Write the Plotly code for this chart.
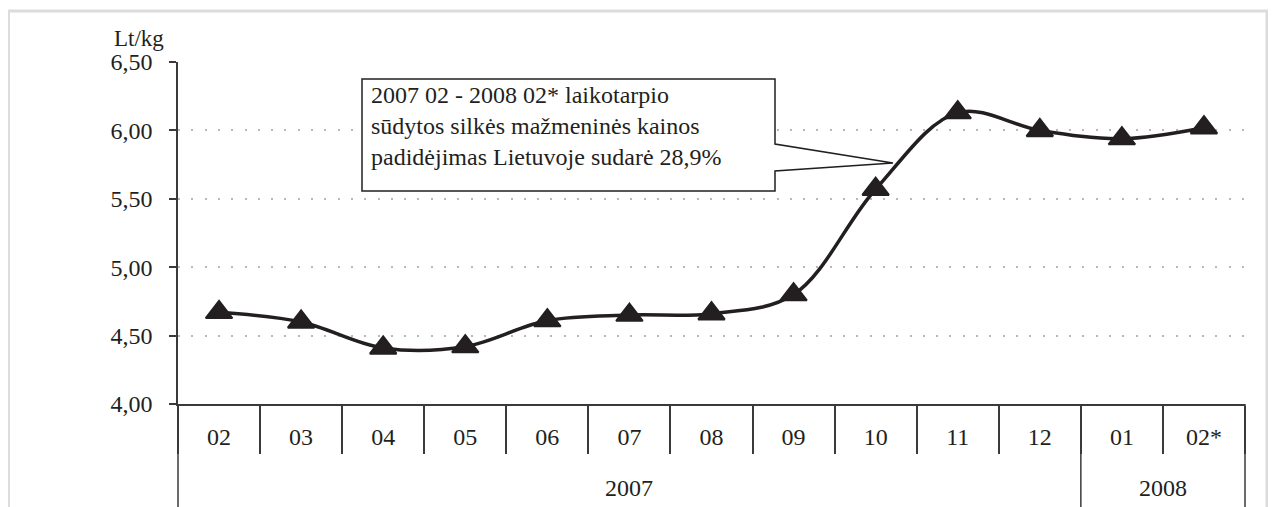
import plotly.graph_objects as go

MONTHS = ['02', '03', '04', '05', '06', '07', '08', '09', '10', '11', '12', '01', '02*']
YEARS = ['2007'] * 11 + ['2008'] * 2
PRICE = [4.67, 4.60, 4.41, 4.42, 4.61, 4.65, 4.66, 4.80, 5.57, 6.13, 6.00, 5.94, 6.02]
Y_RANGE = [4.0, 6.5]
NOTE = ('2007 02 - 2008 02* laikotarpio<br>'
        'sūdytos silkės mažmeninės kainos<br>'
        'padidėjimas Lietuvoje sudarė 28,9%')

SERIF = '"Liberation Serif", "Times New Roman", serif'
INK = '#231f20'
AXIS = '#3a3a3a'

OFF = 8  # default body margin of the html page
W, H = 1260, 499
L, R, T, B = 178 - OFF, 1276 - OFF - 1245, 62 - OFF, 103
PW, PH = W - L - R, H - T - B


def px_to_paper(x, y):
    # page pixel -> paper fraction (decorations only)
    return (x - OFF - L) / PW, (H - B - (y - OFF)) / PH


fig = go.Figure()
fig.add_trace(go.Scatter(
    x=MONTHS, y=PRICE, mode='lines+markers',
    line=dict(color=INK, width=3.5, shape='spline', smoothing=1),
    marker=dict(symbol='triangle-up', size=23, color=INK, line=dict(color=INK, width=2)),
    hoverinfo='skip', showlegend=False,
))

fig.update_layout(
    width=W, height=H,
    margin=dict(l=L, r=R, t=T, b=B, autoexpand=False),
    paper_bgcolor='#ffffff', plot_bgcolor='#ffffff',
    font=dict(family=SERIF, size=24, color=INK),
    separators=',.',
    showlegend=False,
)
fig.update_xaxes(
    type='category', range=[-0.5, len(MONTHS) - 0.5],
    showgrid=False, showline=True, linecolor=AXIS, linewidth=1.5,
    ticks='outside', tickson='boundaries', ticklen=48, tickwidth=1.5, tickcolor=AXIS,
    ticklabelstandoff=10, tickfont=dict(size=24, color=INK), automargin=False,
)
fig.update_yaxes(
    range=Y_RANGE, dtick=0.5, tickformat='.2f',
    showline=True, linecolor=AXIS, linewidth=1.5,
    ticks='outside', ticklen=7, tickwidth=1.5, tickcolor=AXIS,
    ticklabelstandoff=12, tickfont=dict(size=24, color=INK),
    showgrid=True, gridcolor='#b8b8b8', gridwidth=2, griddash='2px,11.3px',
    zeroline=False, automargin=False,
)

# unit label
ux, uy = px_to_paper(139, 38)
fig.add_annotation(text='Lt/kg', xref='paper', yref='paper', x=ux, y=uy,
                   xanchor='center', yanchor='middle',
                   showarrow=False, font=dict(size=23, color=INK))

# year row: labels centred under their months, dividers between years
bottom = px_to_paper(0, 1276)[1]
year_names = list(dict.fromkeys(YEARS))
for yr in year_names:
    idx = [i for i, v in enumerate(YEARS) if v == yr]
    fig.add_annotation(text=yr, xref='x', yref='paper', x=(idx[0] + idx[-1]) / 2,
                       y=px_to_paper(0, 488)[1], showarrow=False,
                       xanchor='center', yanchor='middle',
                       font=dict(size=24, color=INK))
    if idx[0] > 0:
        fig.add_shape(type='line', xref='x', yref='paper', x0=idx[0] - 0.5, x1=idx[0] - 0.5,
                      y0=0, y1=bottom, line=dict(color=AXIS, width=1.5))
for xe in (0, 1):
    fig.add_shape(type='line', xref='paper', yref='paper', x0=xe, x1=xe, y0=0, y1=bottom,
                  line=dict(color=AXIS, width=1.5))

# callout box with a wedge pointing at the jump
bx0, by0 = px_to_paper(362, 79)
bx1, by1 = px_to_paper(775, 191)
_, wy0 = px_to_paper(0, 144)
_, wy1 = px_to_paper(0, 171)
tx, ty = px_to_paper(893, 163)
fig.add_shape(
    type='path', xref='paper', yref='paper', layer='above',
    path=(f'M{bx0},{by0} H{bx1} V{wy0} L{tx},{ty} L{bx1},{wy1} V{by1} H{bx0} Z'),
    fillcolor='#ffffff', line=dict(color=INK, width=1.5),
)
nx, ny = px_to_paper(369, 80)
fig.add_annotation(text=NOTE, xref='paper', yref='paper', x=nx, y=ny,
                   xanchor='left', yanchor='top', align='left', showarrow=False,
                   font=dict(size=24, color=INK))

# light frame around the figure
fx0, fy0 = px_to_paper(8.5, 11)
fx1, _ = px_to_paper(1267, 0)
fig.add_shape(type='path', xref='paper', yref='paper', layer='below',
              path=f'M{fx0},{bottom} V{fy0} H{fx1} V{bottom}',
              line=dict(color='#dcdcdc', width=3))

fig.write_html('out.html')
